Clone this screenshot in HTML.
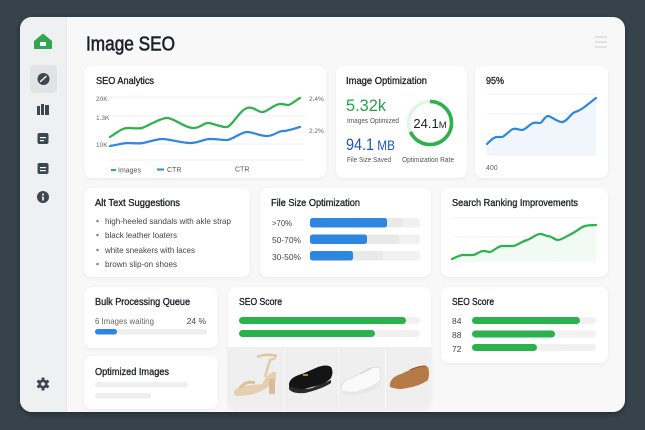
<!DOCTYPE html>
<html><head><meta charset="utf-8"><style>
html,body{margin:0;padding:0;background:#36434b;}
svg{display:block;}
text{font-family:"Liberation Sans",sans-serif;}
.t{font-size:10.5px;fill:#1f2226;stroke:#1f2226;stroke-width:0.35px;}
</style></head><body>
<svg width="645" height="430" viewBox="0 0 645 430" xmlns="http://www.w3.org/2000/svg">
<defs>
<filter id="ws" x="-10%" y="-10%" width="120%" height="130%"><feDropShadow dx="0" dy="2" stdDeviation="3" flood-color="#000" flood-opacity="0.35"/></filter>
<filter id="cs" x="-10%" y="-10%" width="120%" height="130%"><feDropShadow dx="0" dy="1" stdDeviation="1.5" flood-color="#000" flood-opacity="0.06"/></filter>
<clipPath id="win"><rect x="20" y="17" width="605" height="395" rx="12"/></clipPath>
<clipPath id="mid"><rect x="228" y="287" width="203" height="122" rx="8"/></clipPath>
</defs>
<rect width="645" height="430" fill="#36434b"/>
<rect x="20" y="17" width="605" height="395" rx="12" fill="#f8f8f8" filter="url(#ws)"/>
<g clip-path="url(#win)">
<rect x="20" y="17" width="46" height="395" fill="#eff0f1"/>
<rect x="66" y="17" width="1" height="395" fill="#e9eaeb"/>
</g>
<!-- sidebar icons -->
<path d="M34 41 L43 33.5 L52 41 V48 Q52 49 51 49 H35 Q34 49 34 48 Z" fill="#2ea84f"/>
<rect x="40" y="42" width="6" height="4" fill="#fff"/>
<rect x="30" y="65" width="27" height="28" rx="4" fill="#e2e3e5"/>
<circle cx="43.5" cy="79" r="6" fill="#3d4750"/>
<path d="M40.5 81.5 L46 76.5" stroke="#fff" stroke-width="1.4" stroke-linecap="round"/>
<rect x="37" y="106" width="3" height="9" fill="#3d4750"/><rect x="41" y="104" width="3" height="11" fill="#3d4750"/><rect x="45" y="105" width="4" height="10" fill="#3d4750"/>
<rect x="37.5" y="133" width="11" height="11" rx="2" fill="#3d4750"/><rect x="40" y="137" width="6" height="1.2" fill="#fff"/><rect x="40" y="140" width="4" height="1.2" fill="#fff"/>
<rect x="37.5" y="163" width="11" height="11" rx="2" fill="#3d4750"/><rect x="40" y="167" width="6" height="1.2" fill="#fff"/><rect x="40" y="170" width="6" height="1.2" fill="#fff"/>
<circle cx="43" cy="197" r="6" fill="#3d4750"/><circle cx="43" cy="194.5" r="1" fill="#fff"/><rect x="42.2" y="196.5" width="1.6" height="4" fill="#fff"/>
<g transform="translate(43 384)" fill="#3d4750">
<circle r="4.6"/>
<rect x="-1.5" y="-6.5" width="3" height="13" rx="0.8"/>
<rect x="-1.5" y="-6.5" width="3" height="13" rx="0.8" transform="rotate(60)"/>
<rect x="-1.5" y="-6.5" width="3" height="13" rx="0.8" transform="rotate(120)"/>
<circle r="1.9" fill="#eff0f1"/>
</g>
<!-- header -->
<text x="86" y="50.5" font-size="20" fill="#1d2125" stroke="#1d2125" stroke-width="0.6" textLength="89" lengthAdjust="spacingAndGlyphs">Image SEO</text>
<g stroke="#d3d5d8" stroke-width="1.3"><line x1="595" y1="37" x2="607" y2="37"/><line x1="595" y1="42" x2="607" y2="42"/><line x1="595" y1="47" x2="607" y2="47"/></g>

<!-- cards -->
<g fill="#fff" filter="url(#cs)">
<rect x="84" y="66" width="242" height="112" rx="8"/>
<rect x="336" y="66" width="131" height="112" rx="8"/>
<rect x="475" y="66" width="133" height="112" rx="8"/>
<rect x="84" y="188" width="166" height="89" rx="8"/>
<rect x="260" y="188" width="171" height="89" rx="8"/>
<rect x="441" y="188" width="167" height="89" rx="8"/>
<rect x="84" y="287" width="134" height="61" rx="8"/>
<rect x="84" y="356" width="134" height="53" rx="8"/>
<rect x="228" y="287" width="203" height="122" rx="8"/>
<rect x="441" y="287" width="167" height="76" rx="8"/>
</g>

<!-- SEO Analytics -->
<text x="96" y="84" class="t" textLength="58" lengthAdjust="spacingAndGlyphs">SEO Analytics</text>
<g stroke="#f0f0f0" stroke-width="1"><line x1="110" y1="97" x2="305" y2="97"/><line x1="110" y1="116" x2="305" y2="116"/><line x1="110" y1="144" x2="305" y2="144"/><line x1="110" y1="160" x2="305" y2="160"/></g>
<g font-size="6.5" fill="#666"><text x="96" y="101">20K</text><text x="96" y="120">1.3K</text><text x="96" y="147">10K</text><text x="309" y="101">2.4%</text><text x="309" y="133">2.2%</text></g>
<path d="M110 137 C118 132,122 128,128 128 S138 129,142 128 S160 118,167 118 S185 128,193 128 S203 123,208 123 S222 128,227 127 S240 110,247 108 S258 113,263 112 S275 104,280 104 S285 105,288 105 S296 100,300 98" fill="none" stroke="#2bb24c" stroke-width="2.2" stroke-linecap="round"/>
<path d="M110 146 C118 145,122 143,128 143 S138 144,143 143 S157 139,163 139 S182 143,190 143 S204 139,210 139 S222 140,227 140 S241 132,247 132 S260 136,267 136 S278 131,283 131 S296 128,300 127" fill="none" stroke="#2f86e0" stroke-width="2.2" stroke-linecap="round"/>
<line x1="111" y1="170" x2="116" y2="170" stroke="#2bb24c" stroke-width="2"/>
<text x="118" y="172.5" font-size="7" fill="#555">Images</text>
<line x1="157" y1="169.5" x2="164" y2="169.5" stroke="#2f86e0" stroke-width="2"/>
<text x="167" y="172" font-size="7" fill="#555">CTR</text>
<text x="235" y="171.5" font-size="7" fill="#555">CTR</text>

<!-- Image Optimization -->
<text x="346" y="84" class="t" textLength="81" lengthAdjust="spacingAndGlyphs">Image Optimization</text>
<text x="346" y="111" font-size="16.5" fill="#22a54a" textLength="40" lengthAdjust="spacingAndGlyphs">5.32k</text>
<text x="347" y="123" font-size="7.2" fill="#555" textLength="52" lengthAdjust="spacingAndGlyphs">Images Optimized</text>
<text x="346" y="150" font-size="16.5" fill="#1d58b5" textLength="49" lengthAdjust="spacingAndGlyphs">94.1<tspan font-size="13.5"> MB</tspan></text>
<text x="347" y="162" font-size="7.2" fill="#555" textLength="44" lengthAdjust="spacingAndGlyphs">File Size Saved</text>
<circle cx="430" cy="123" r="21.5" fill="none" stroke="#e4f4e7" stroke-width="3.6"/>
<circle cx="430" cy="123" r="21.5" fill="none" stroke="#2bb24c" stroke-width="3.6" stroke-dasharray="92 200" transform="rotate(-90 430 123)"/>
<text x="430" y="128" font-size="13" fill="#1d2125" text-anchor="middle">24.1<tspan font-size="9.5">M</tspan></text>
<text x="402" y="162" font-size="7.2" fill="#555" textLength="52" lengthAdjust="spacingAndGlyphs">Optimization Rate</text>

<!-- 95% -->
<text x="486" y="84" class="t" textLength="18" lengthAdjust="spacingAndGlyphs">95%</text>
<g stroke="#f0f0f0" stroke-width="1"><line x1="487" y1="94" x2="597" y2="94"/><line x1="487" y1="114" x2="597" y2="114"/><line x1="487" y1="134" x2="597" y2="134"/></g>
<path d="M487 144 C491 140,494 137,497 137 S500 137,502 137 S510 130,513 129 S519 130,522 130 S530 124,533 123 S538 123,540 123 S545 116,548 116 S557 122,562 122 S571 113,575 112 S580 110,583 108 S592 101,596 98 L596 155 L487 155 Z" fill="#f1f6fd"/>
<line x1="487" y1="155" x2="597" y2="155" stroke="#f0f0f0"/>
<path d="M487 144 C491 140,494 137,497 137 S500 137,502 137 S510 130,513 129 S519 130,522 130 S530 124,533 123 S538 123,540 123 S545 116,548 116 S557 122,562 122 S571 113,575 112 S580 110,583 108 S592 101,596 98" fill="none" stroke="#2f86e0" stroke-width="2.2" stroke-linecap="round"/>
<text x="486" y="170" font-size="7" fill="#666">400</text>

<!-- Alt Text -->
<text x="95" y="206" class="t" textLength="85" lengthAdjust="spacingAndGlyphs">Alt Text Suggestions</text>
<g fill="#888"><circle cx="97.5" cy="221" r="1.3"/><circle cx="97.5" cy="235" r="1.3"/><circle cx="97.5" cy="250" r="1.3"/><circle cx="97.5" cy="264" r="1.3"/></g>
<g font-size="8.3" fill="#444">
<text x="105" y="224" textLength="126" lengthAdjust="spacingAndGlyphs">high-heeled sandals with akle strap</text>
<text x="105" y="238" textLength="72" lengthAdjust="spacingAndGlyphs">black leather loaters</text>
<text x="105" y="253" textLength="90" lengthAdjust="spacingAndGlyphs">white sneakers with laces</text>
<text x="105" y="267" textLength="72" lengthAdjust="spacingAndGlyphs">brown slip-on shoes</text>
</g>

<!-- File Size -->
<text x="271" y="206" class="t" textLength="89" lengthAdjust="spacingAndGlyphs">File Size Optimization</text>
<g font-size="8" fill="#444"><text x="272" y="226" textLength="20" lengthAdjust="spacingAndGlyphs">&gt;70%</text><text x="272" y="243" textLength="29" lengthAdjust="spacingAndGlyphs">50-70%</text><text x="272" y="260" textLength="29" lengthAdjust="spacingAndGlyphs">30-50%</text></g>
<g fill="#f1f1f1"><rect x="310" y="218" width="110" height="9.5" rx="3"/><rect x="310" y="234.5" width="110" height="9.5" rx="3"/><rect x="310" y="251" width="110" height="9.5" rx="3"/></g>
<g fill="#e9e9e9"><rect x="380" y="218" width="23" height="9.5" rx="3"/><rect x="360" y="234.5" width="39" height="9.5" rx="3"/><rect x="346" y="251" width="37" height="9.5" rx="3"/></g>
<g fill="#2f86e0"><rect x="310" y="218" width="77" height="9.5" rx="2.5"/><rect x="310" y="234.5" width="57" height="9.5" rx="2.5"/><rect x="310" y="251" width="43" height="9.5" rx="2.5"/></g>

<!-- Search Ranking -->
<text x="452" y="206" class="t" textLength="126" lengthAdjust="spacingAndGlyphs">Search Ranking Improvements</text>
<g stroke="#f0f0f0"><line x1="452" y1="218" x2="597" y2="218"/><line x1="452" y1="237" x2="597" y2="237"/></g>
<path d="M452 259 C457 257,460 255,463 255 S470 255,473 255 S480 251,483 251 S488 252,490 252 S498 246,502 246 S510 246,513 246 S523 241,527 240 S536 234,540 234 S545 236,548 236 S555 240,558 240 S569 235,573 233 S581 227,585 226 S593 225,596 225 L596 262 L452 262 Z" fill="#f2faf4"/>
<path d="M452 259 C457 257,460 255,463 255 S470 255,473 255 S480 251,483 251 S488 252,490 252 S498 246,502 246 S510 246,513 246 S523 241,527 240 S536 234,540 234 S545 236,548 236 S555 240,558 240 S569 235,573 233 S581 227,585 226 S593 225,596 225" fill="none" stroke="#2bb24c" stroke-width="2.2" stroke-linecap="round"/>

<!-- Bulk -->
<text x="95" y="305" class="t" textLength="95" lengthAdjust="spacingAndGlyphs">Bulk Processing Queue</text>
<text x="95" y="324" font-size="8.5" fill="#666" textLength="59" lengthAdjust="spacingAndGlyphs">6 Images waiting</text>
<text x="206" y="324" font-size="8.5" fill="#444" text-anchor="end">24 %</text>
<rect x="95" y="329" width="112" height="5.5" rx="2.7" fill="#efefef"/>
<rect x="95" y="329" width="22" height="5.5" rx="2.7" fill="#2f86e0"/>

<!-- Optimized -->
<text x="95" y="375" class="t" textLength="74" lengthAdjust="spacingAndGlyphs">Optimized Images</text>
<rect x="95" y="382" width="93" height="5.5" rx="2.7" fill="#efefef"/>
<rect x="95" y="393" width="56" height="5.5" rx="2.7" fill="#efefef"/>

<!-- SEO Score middle -->
<text x="239" y="305" class="t" textLength="43" lengthAdjust="spacingAndGlyphs">SEO Score</text>
<rect x="239" y="317" width="181" height="7" rx="3.5" fill="#f1f1f1"/>
<rect x="239" y="317" width="167" height="7" rx="3.5" fill="#2bb24c"/>
<rect x="239" y="330" width="181" height="7" rx="3.5" fill="#f1f1f1"/>
<rect x="239" y="330" width="136" height="7" rx="3.5" fill="#2bb24c"/>
<g clip-path="url(#mid)">
<rect x="228" y="347" width="203" height="62" fill="#efefef"/>
<rect x="284" y="347" width="1" height="62" fill="#f8f8f8"/>
<rect x="338" y="347" width="1" height="62" fill="#f8f8f8"/>
<rect x="385" y="347" width="1" height="62" fill="#f8f8f8"/>
</g>
<!-- sandal -->
<g>
<path d="M234 392 Q236 387,244 386 L262 384 Q266 376,272 372 L276 372 L276 379 L274 384 L274 394 L270 394 L269 386 Q262 392,250 395 L238 396 Q233 396,234 392 Z" fill="#e6cfae"/>
<path d="M265 377 L270 360 L276 358" fill="none" stroke="#e3cba8" stroke-width="2.5"/>
<path d="M257 357 Q266 353,277 356" fill="none" stroke="#e0c7a2" stroke-width="2.5"/>
<path d="M240 388 Q246 380,255 383" fill="none" stroke="#dcc29c" stroke-width="3"/>
<rect x="269" y="379" width="6" height="15" fill="#d8bd96"/>
</g>
<!-- loafer -->
<path d="M289 384 Q290 377,302 374 L318 367 Q327 364,331 367 Q334 372,331 378 Q326 384,312 387 L297 391 Q289 392,289 384 Z" fill="#141414"/>
<path d="M289 386 Q300 391,312 388 L331 380 L331 383 Q322 389,305 393 Q292 394,289 389 Z" fill="#2a2a2a"/>
<rect x="303" y="374" width="5" height="2" fill="#b08a40"/>
<!-- sneaker -->
<path d="M341 388 Q342 381,352 378 L366 370 Q374 366,380 368 Q382 374,380 381 Q372 388,356 392 L346 393 Q340 393,341 388 Z" fill="#fafafa" stroke="#ddd" stroke-width="0.8"/>
<path d="M341 390 Q352 393,362 391 L380 383 L380 386 Q370 393,356 395 Q343 396,341 392 Z" fill="#e8e8e8"/>
<path d="M360 374 L372 368" stroke="#d0d0d0" stroke-width="0.8"/>
<!-- slip-on -->
<path d="M390 384 Q391 377,401 374 L414 368 Q423 364,428 367 Q430 373,428 380 Q420 386,407 388 L396 390 Q389 390,390 384 Z" fill="#b57a45"/>
<path d="M390 387 Q402 391,414 388 L428 381 L428 385 Q418 391,404 393 Q392 394,390 390 Z" fill="#f4efe6"/>
<path d="M410 370 Q418 366,426 366" fill="none" stroke="#8e5c30" stroke-width="1"/>

<!-- SEO Score right -->
<text x="452" y="305" class="t" textLength="42" lengthAdjust="spacingAndGlyphs">SEO Score</text>
<g font-size="8.5" fill="#444"><text x="452" y="324">84</text><text x="452" y="338">88</text><text x="452" y="352">72</text></g>
<g fill="#f1f1f1"><rect x="472" y="317" width="124" height="7" rx="3.5"/><rect x="472" y="330.5" width="124" height="7" rx="3.5"/><rect x="472" y="344" width="124" height="7" rx="3.5"/></g>
<g fill="#2bb24c"><rect x="472" y="317" width="108" height="7" rx="3.5"/><rect x="472" y="330.5" width="83" height="7" rx="3.5"/><rect x="472" y="344" width="65" height="7" rx="3.5"/></g>
</svg>
</body></html>
